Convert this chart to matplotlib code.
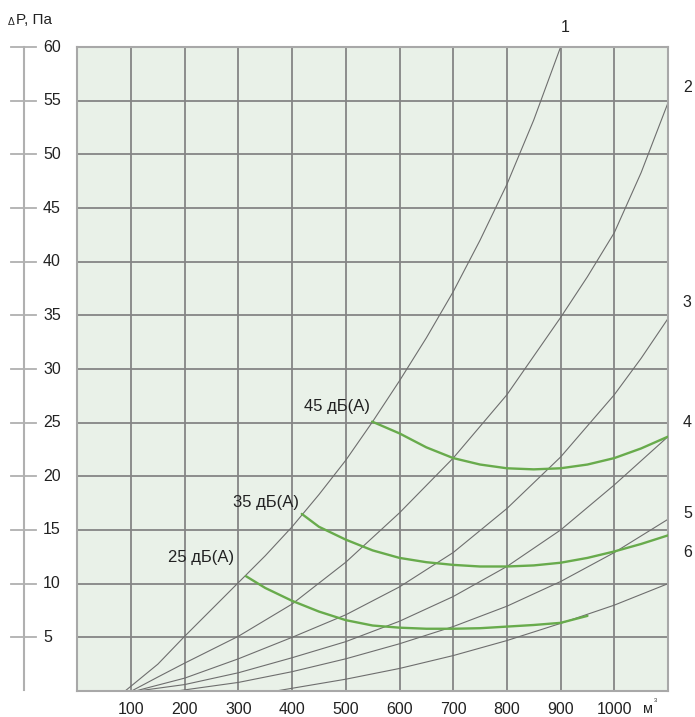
import matplotlib.pyplot as plt
import matplotlib.transforms as mtransforms

plt.rcParams['font.family'] = ['Liberation Sans', 'DejaVu Sans']

# Network curves 1..6 (flow, pressure drop)
c1_q = [89, 150, 200, 250, 300, 350, 400, 450, 500, 550, 600, 650, 700, 750, 800, 850, 900]
c1_p = [0, 2.5, 5.1, 7.6, 10.1, 12.6, 15.3, 18.3, 21.5, 25.1, 28.9, 32.9, 37.2, 42.0, 47.2, 53.2, 60]
c2_q = [101, 150, 200, 300, 400, 500, 600, 700, 800, 900, 950, 1000, 1050, 1100]
c2_p = [0, 1.3, 2.6, 5.1, 8.1, 12.0, 16.6, 21.7, 27.6, 34.8, 38.6, 42.7, 48.3, 54.8]
c3_q = [108, 200, 300, 400, 500, 600, 700, 800, 900, 1000, 1050, 1100]
c3_p = [0, 1.2, 3.0, 5.0, 7.1, 9.7, 12.9, 17.0, 21.8, 27.6, 31.0, 34.7]
c4_q = [112, 200, 300, 400, 500, 600, 700, 800, 900, 1000, 1100]
c4_p = [0, 0.6, 1.7, 3.1, 4.6, 6.5, 8.8, 11.6, 15.0, 19.2, 23.7]
c5_q = [185, 300, 400, 500, 600, 700, 800, 900, 1000, 1100]
c5_p = [0, 0.8, 1.8, 3.0, 4.4, 6.0, 7.9, 10.2, 12.9, 16.0]
c6_q = [370, 500, 600, 700, 800, 900, 1000, 1100]
c6_p = [0, 1.1, 2.1, 3.3, 4.7, 6.3, 8.0, 10.0]

# Noise level curves
g45_q = [549, 600, 650, 700, 750, 800, 850, 900, 950, 1000, 1050, 1100]
g45_p = [25.1, 24.0, 22.7, 21.7, 21.1, 20.75, 20.65, 20.75, 21.1, 21.7, 22.6, 23.7]
g35_q = [418, 450, 500, 550, 600, 650, 700, 750, 800, 850, 900, 950, 1000, 1050, 1100]
g35_p = [16.5, 15.3, 14.1, 13.1, 12.4, 12.0, 11.75, 11.6, 11.6, 11.7, 11.95, 12.4, 13.0, 13.7, 14.5]
g25_q = [314, 350, 400, 450, 500, 550, 600, 650, 700, 750, 800, 850, 900, 950]
g25_p = [10.7, 9.6, 8.4, 7.4, 6.6, 6.1, 5.9, 5.8, 5.8, 5.85, 6.0, 6.15, 6.35, 7.0]

x_ticks = [100, 200, 300, 400, 500, 600, 700, 800, 900, 1000]
y_ticks = [5, 10, 15, 20, 25, 30, 35, 40, 45, 50, 55, 60]
curve_labels = ['1', '2', '3', '4', '5', '6']
label_pos = [(909, 61.8), (1136, 56.2), (1136, 36.2), (1136, 25.0), (1136, 16.5), (1136, 12.9)]
db_labels = ['45 дБ(А)', '35 дБ(А)', '25 дБ(А)']
db_pos = [(483, 26.5), (351, 17.6), (231, 12.4)]

fig = plt.figure(figsize=(6.95, 7.17), dpi=100)
ax = fig.add_axes([77.3 / 695, 1 - 691 / 717, 590.7 / 695, 644 / 717])
ax.set_facecolor('#e9f1e8')
ax.set_xlim(0, 1100)
ax.set_ylim(0, 60)

for v in x_ticks:
    ax.axvline(v, color='#858585', lw=1.3, zorder=1)
for v in y_ticks[:-1]:
    ax.axhline(v, color='#858585', lw=1.3, zorder=1)
for s in ax.spines.values():
    s.set_color('#a8a8a8')
    s.set_linewidth(1.5)

for q, p in [(c1_q, c1_p), (c2_q, c2_p), (c3_q, c3_p), (c4_q, c4_p), (c5_q, c5_p), (c6_q, c6_p)]:
    ax.plot(q, p, color='#6e6e6e', lw=0.8, zorder=2, solid_joinstyle='round')

for q, p in [(g45_q, g45_p), (g35_q, g35_p), (g25_q, g25_p)]:
    ax.plot(q, p, color='#68ab4c', lw=1.7, zorder=3, solid_capstyle='round')

ax.set_xticks(x_ticks)
ax.set_xticklabels([str(v) for v in x_ticks], fontsize=11.5, color='#222222')
ax.tick_params(axis='x', length=0, pad=8)
ax.set_yticks([])

# unit label, small "м" with a tiny superscript
ax.text(1063, -1.65, 'м', fontsize=10.5, color='#222222', ha='center', va='center', clip_on=False)
ax.text(1077, -0.9, '3', fontsize=4, color='#222222', ha='center', va='center', clip_on=False)

# detached pressure scale on the left
tr = mtransforms.blended_transform_factory(fig.transFigure, ax.transData)
ax.plot([24 / 695, 24 / 695], [0.1, 60], transform=tr, color='#b0b0b0', lw=1.5, clip_on=False)
for v in y_ticks:
    ax.plot([11 / 695, 36 / 695], [v, v], transform=tr, color='#b0b0b0', lw=1.3, clip_on=False)
    ax.text(43 / 695, v, str(v), transform=tr, fontsize=11.5, color='#222222',
            ha='left', va='center', clip_on=False)
fig.text(8 / 695, 1 - 22 / 717, 'Δ', fontsize=7.5, color='#222222', ha='left', va='center')
fig.text(16 / 695, 1 - 20 / 717, 'P, Па', fontsize=11, color='#222222', ha='left', va='center')

for t, (x, y) in zip(curve_labels, label_pos):
    ax.text(x, y, t, fontsize=11.5, color='#222222', ha='center', va='center', clip_on=False)
for t, (x, y) in zip(db_labels, db_pos):
    ax.text(x, y, t, fontsize=12, color='#222222', ha='center', va='center')

fig.savefig('out.png', dpi=100)
